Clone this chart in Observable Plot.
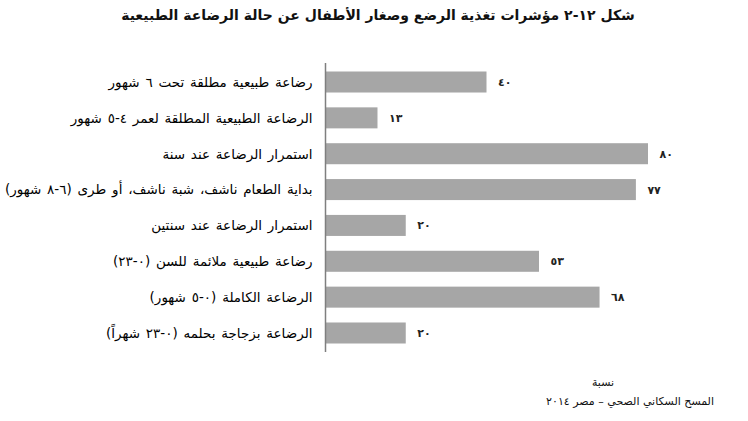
<!DOCTYPE html>
<html>
<head>
<meta charset="utf-8">
<script src="https://cdn.jsdelivr.net/npm/d3@7"></script>
<script src="https://cdn.jsdelivr.net/npm/@observablehq/plot@0.6"></script>
<style>
  html, body { margin: 0; padding: 0; background: #fff; }
  body { width: 748px; height: 421px; position: relative; overflow: hidden; font-family: "DejaVu Sans", "Liberation Sans", sans-serif; color: #111; }
  #title { position: absolute; top: 7px; left: 0; width: 756px; text-align: center; font-weight: bold; font-size: 14px; direction: rtl; }
  #chart { position: absolute; top: 40px; left: 0; }
  #chart svg g[aria-label="y-axis tick label"] text { word-spacing: 1.5px; }
  #note1 { position: absolute; top: 376px; left: 570px; width: 66px; text-align: center; font-size: 11px; direction: rtl; }
  #note2 { position: absolute; top: 395px; right: 34px; font-size: 11px; direction: rtl; white-space: nowrap; }
</style>
</head>
<body>
<div id="title">شكل ١٢-٢  مؤشرات تغذية الرضع وصغار الأطفال عن حالة الرضاعة الطبيعية</div>
<div id="chart"></div>
<div id="note1">نسبة</div>
<div id="note2">المسح السكاني الصحي – مصر ٢٠١٤</div>
<script>
const categories = [
  "رضاعة طبيعية مطلقة تحت ٦ شهور",
  "الرضاعة الطبيعية المطلقة لعمر ٤-٥ شهور",
  "استمرار الرضاعة عند سنة",
  "بداية الطعام ناشف، شبة ناشف، أو طرى (٦-٨ شهور)",
  "استمرار الرضاعة عند سنتين",
  "رضاعة طبيعية ملائمة للسن (٠-٢٣)",
  "الرضاعة الكاملة (٠-٥ شهور)",
  "الرضاعة بزجاجة بحلمه (٠-٢٣ شهراً)"
];
const values = [40, 13, 80, 77, 20, 53, 68, 20];

const data = categories.map((c, i) => ({label: c, value: values[i]}));
const toArabic = n => String(n).replace(/\d/g, d => "٠١٢٣٤٥٦٧٨٩"[d]);

const chart = Plot.plot({
  width: 748,
  height: 330,
  marginLeft: 325,
  marginRight: 100,
  marginTop: 23,
  marginBottom: 18,
  style: {fontFamily: "DejaVu Sans, sans-serif", fontSize: "12px", color: "#111", background: "#fff"},
  x: {domain: [0, 80], axis: null},
  y: {domain: categories, paddingInner: 0.414, paddingOuter: 0.237, round: false, label: null},
  marks: [
    Plot.barX(data, {x: "value", y: "label", fill: "#a6a6a6"}),
    Plot.ruleX([0], {stroke: "#7f7f7f", strokeWidth: 1.5}),
    Plot.axisY({tickSize: 0, tickPadding: 13, fontSize: 13.5, fill: "#000", tickFormat: d => "\u202B" + d + "\u202C"}),
    Plot.text(data, {x: "value", y: "label", text: d => toArabic(d.value), textAnchor: "start", dx: 11, fontSize: 11, fontWeight: "bold", fill: "#222"})
  ]
});
document.getElementById("chart").appendChild(chart);
</script>
</body>
</html>
